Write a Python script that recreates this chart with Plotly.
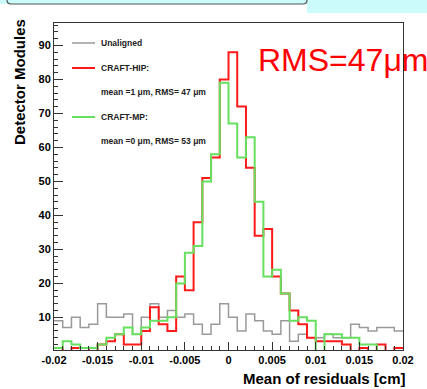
import numpy as np
import plotly.graph_objects as go

# ---- histogram data: module counts per 0.001 cm bin of the residual mean ----
bin_low = -0.02
bin_high = 0.02
bin_width = 0.001

unaligned = [9, 7, 10, 7, 8, 14, 10, 10, 11, 5,
             10, 14, 10, 12, 10, 11, 8, 5, 8, 14,
             10, 6, 11, 9, 6, 5, 9, 3, 5, 4,
             4, 5, 4, 4, 8, 7, 6, 7, 7, 6]
craft_hip = [1, 0, 1, 1, 0, 2, 3, 5, 2, 2,
             6, 13, 8, 6, 22, 18, 38, 51, 57, 80,
             88, 72, 54, 34, 36, 22, 17, 12, 8, 4,
             3, 3, 3, 2, 0, 1, 0, 2, 0, 1]
craft_mp = [1, 3, 2, 1, 1, 2, 4, 5, 7, 5,
            7, 9, 9, 10, 20, 29, 31, 50, 58, 79,
            67, 57, 63, 44, 22, 24, 17, 9, 10, 9,
            0, 5, 5, 4, 4, 2, 2, 0, 0, 0]

x_tick_vals = [-0.02, -0.015, -0.01, -0.005, 0, 0.005, 0.01, 0.015, 0.02]
x_tick_text = ["-0.02", "-0.015", "-0.01", "-0.005", "0", "0.005", "0.01", "0.015", "0.02"]
y_tick_vals = [10, 20, 30, 40, 50, 60, 70, 80, 90]

# ---- page geometry (pixels) ----
W, H = 427, 389
L, R, T, B = 54, 403, 23, 350


def px(x):
    return (x - L) / (R - L)


def py(y):
    return (B - y) / (B - T)


n_bins = int(round((bin_high - bin_low) / bin_width))
edges = bin_low + bin_width * np.arange(n_bins + 1)

FONT = "Liberation Sans"
RED = "#ff1a1a"
GREEN = "#66e05e"
GRAY = "#9a9a9a"
AXIS = "#333333"


def step_trace(counts, color, width):
    y = list(counts) + [counts[-1]]
    return go.Scatter(x=edges, y=y, mode="lines", line_shape="hv",
                      line=dict(color=color, width=width),
                      hoverinfo="skip", showlegend=False)


fig = go.Figure()
fig.add_trace(step_trace(unaligned, GRAY, 1.5))
fig.add_trace(step_trace(craft_hip, RED, 2))
fig.add_trace(step_trace(craft_mp, GREEN, 2))

fig.update_layout(
    width=W, height=H,
    margin=dict(l=L, r=W - R, t=T, b=H - B, pad=0),
    paper_bgcolor="white", plot_bgcolor="white",
    font=dict(family=FONT, color="black"),
    xaxis=dict(range=[bin_low, bin_high], tickmode="array",
               tickvals=x_tick_vals, ticktext=x_tick_text,
               ticks="inside", ticklen=8, tickwidth=1, tickcolor=AXIS,
               tickfont=dict(family=FONT, size=11, weight=700, color="black"),
               showline=True, mirror=True, linecolor=AXIS, linewidth=1,
               showgrid=False, zeroline=False,
               minor=dict(tick0=bin_low, dtick=bin_width, ticks="inside",
                          ticklen=4, tickcolor=AXIS, showgrid=False)),
    yaxis=dict(range=[0.4, 96.6], tickmode="array", tickvals=y_tick_vals,
               ticks="inside", ticklen=9, tickwidth=1, tickcolor=AXIS,
               tickfont=dict(family=FONT, size=11, weight=700, color="black"),
               showline=True, mirror=True, linecolor=AXIS, linewidth=1,
               showgrid=False, zeroline=False,
               minor=dict(tick0=0, dtick=2, ticks="inside", ticklen=4,
                          tickcolor=AXIS, showgrid=False)),
)

shapes = []
# slide header band with a bordered box
shapes.append(dict(type="rect", xref="paper", yref="paper",
                   x0=px(0), x1=px(W), y0=py(13), y1=py(0),
                   fillcolor="#ccfbfb", line=dict(width=0), layer="below"))
shapes.append(dict(type="rect", xref="paper", yref="paper",
                   x0=px(0), x1=px(307), y0=py(13), y1=py(4),
                   fillcolor="white", line=dict(width=0), layer="below"))
shapes.append(dict(type="path", xref="paper", yref="paper",
                   path=(f"M {px(7)} {py(0)} Q {px(7)} {py(4)} {px(11)} {py(4)} "
                         f"L {px(303)} {py(4)} Q {px(307)} {py(4)} {px(307)} {py(0)}"),
                   line=dict(color="#555555", width=1.2)))

# legend line samples
for yy, col, w in [(43, GRAY, 1.5), (68, RED, 2), (117, GREEN, 2)]:
    shapes.append(dict(type="line", xref="paper", yref="paper",
                       x0=px(72), x1=px(95), y0=py(yy), y1=py(yy),
                       line=dict(color=col, width=w)))
fig.update_layout(shapes=shapes)

annotations = []
legend_rows = [(43, "Unaligned", 8.5), (68, "CRAFT-HIP:", 8.5),
               (92, "mean =1 μm, RMS= 47 μm", 8.5), (117, "CRAFT-MP:", 8.5),
               (141, "mean =0 μm, RMS= 53 μm", 8.5)]
for yy, txt, sz in legend_rows:
    annotations.append(dict(xref="paper", yref="paper", x=px(99), y=py(yy),
                            xanchor="left", yanchor="middle", showarrow=False,
                            text=txt, font=dict(family=FONT, size=sz, weight=700,
                                                color="#222222")))

annotations.append(dict(xref="paper", yref="paper", x=px(256), y=py(60),
                        xanchor="left", yanchor="middle", showarrow=False,
                        text="RMS=47μm",
                        font=dict(family=FONT, size=32, color="#ff0000")))

annotations.append(dict(xref="paper", yref="paper", x=px(408), y=py(378),
                        xanchor="right", yanchor="middle", showarrow=False,
                        text="Mean of residuals [cm]",
                        font=dict(family=FONT, size=15, weight=700, color="black")))

annotations.append(dict(xref="paper", yref="paper", x=px(19), y=py(17),
                        xanchor="center", yanchor="top", showarrow=False,
                        textangle=-90, text="Detector Modules",
                        font=dict(family=FONT, size=15, weight=700, color="black")))
fig.update_layout(annotations=annotations)

fig.write_html("out.html")
